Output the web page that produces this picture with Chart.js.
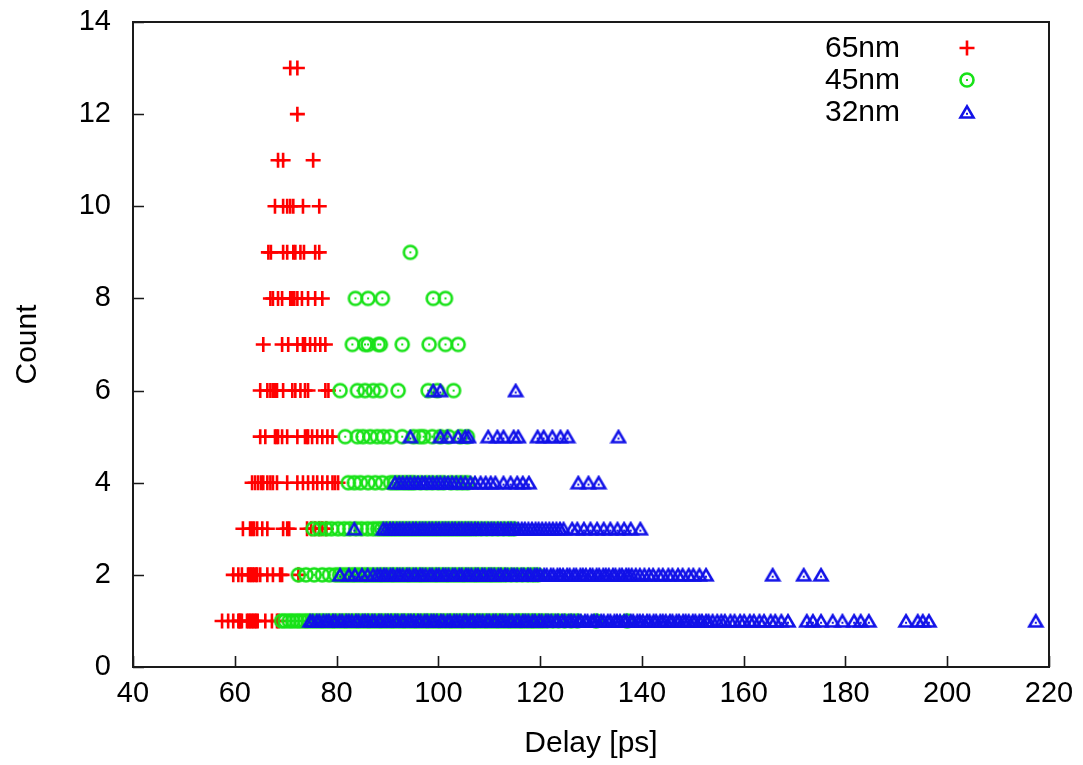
<!DOCTYPE html>
<html>
<head>
<meta charset="utf-8">
<script src="https://cdn.jsdelivr.net/npm/chart.js@4.4.0/dist/chart.umd.min.js"></script>
<style>
    html, body { margin: 0; padding: 0; background: #ffffff; }
    #grafico { display: block; }
</style>
</head>
<body>
<canvas id="grafico" width="1083" height="765"></canvas>
<script>
// Atraso de cada amostra por nó tecnológico; linhas[i] = atrasos com contagem i + 1
var nomesSeries = ['65nm', '45nm', '32nm'];
var coresSeries = ['rgb(255, 0, 0)', 'rgb(24, 226, 24)', 'rgb(18, 18, 232)'];

var eixoX = { min: 40, max: 220, passo: 20 };
var eixoY = { min: 0, max: 14, passo: 2 };

var atrasos65 = [
    [57.5, 58.7, 59.7, 60.7, 60.9, 61.1, 61.4, 62.4, 62.7, 63.0, 63.3, 63.6, 63.9, 64.2, 64.5, 66.0, 67.3, 68.3, 68.6],
    [59.7, 60.7, 61.4, 62.6, 62.9, 63.2, 63.5, 63.8, 64.2, 64.4, 65.0, 66.4, 67.5, 68.9, 69.3, 72.5],
    [61.6, 63.0, 63.4, 63.8, 64.4, 65.4, 66.4, 69.5, 70.3, 70.7, 74.2, 75.0, 75.8, 76.6, 77.2, 78.0],
    [63.4, 64.0, 64.6, 65.2, 65.6, 66.4, 67.0, 67.5, 68.3, 70.3, 72.3, 73.4, 74.4, 75.4, 76.2, 77.2, 78.2, 79.2, 79.7, 80.3],
    [65.0, 66.0, 67.9, 68.2, 68.5, 69.3, 70.3, 72.3, 73.8, 74.2, 74.4, 75.2, 76.2, 77.2, 78.2, 79.2],
    [65.0, 66.4, 67.0, 67.5, 67.9, 68.3, 69.5, 71.3, 71.9, 72.9, 73.8, 74.4, 77.8, 78.4],
    [65.6, 69.3, 70.5, 72.3, 73.4, 73.8, 74.8, 75.8, 76.8, 77.8],
    [67.0, 67.5, 68.5, 69.3, 70.9, 71.3, 71.7, 72.3, 73.2, 74.4, 75.8, 77.2],
    [66.6, 67.1, 69.5, 70.3, 71.5, 71.9, 72.9, 73.6, 75.8, 76.6],
    [67.9, 69.5, 70.3, 70.9, 71.5, 73.4, 76.6],
    [68.5, 69.5, 75.4],
    [72.3],
    [70.9, 72.3]
];

var atrasos45 = [
    [69.2, 69.9, 70.7, 71.4, 72.2, 72.9, 73.7, 74.4, 75.2, 76.0, 76.8, 77.5, 78.3, 79.1, 79.8, 80.6, 81.4, 82.1, 82.9,
     83.7, 84.4, 85.2, 86.0, 86.7, 87.5, 88.3, 89.0, 89.8, 90.6, 91.3, 92.1, 92.9, 93.6, 94.4, 95.2, 95.9, 96.7, 97.5,
     98.2, 99.0, 99.8, 100.5, 101.3, 102.1, 102.8, 103.6, 104.4, 105.1, 105.9, 106.7, 107.4, 108.2, 109.0, 109.7, 110.5,
     111.3, 112.0, 112.8, 113.6, 114.3, 115.1, 115.9, 116.6, 117.4, 118.2, 118.9, 119.7, 120.5, 121.4, 122.5, 123.6,
     124.8, 126.1, 127.3, 131.0, 137.1],
    [72.5, 74.0, 75.6, 77.2, 78.6, 79.8, 80.6, 81.4, 82.2, 83.0, 83.7, 84.5, 85.3, 86.0, 86.8, 87.6, 88.4, 89.1, 89.9,
     90.7, 91.4, 92.2, 93.0, 93.8, 94.5, 95.3, 96.1, 96.8, 97.6, 98.4, 99.2, 99.9, 100.7, 101.5, 102.2, 103.0, 103.8,
     104.6, 105.3, 106.1, 106.9, 107.6, 108.4, 109.2, 110.0, 110.7, 111.5, 112.3, 113.2, 114.3, 115.4, 116.5, 117.6,
     118.6, 119.5],
    [75.4, 76.6, 77.9, 79.0, 80.3, 81.5, 82.6, 83.8, 84.9, 86.1, 87.2, 88.1, 88.9, 89.7, 90.5, 91.3, 92.1, 92.9, 93.7,
     94.5, 95.3, 96.1, 96.9, 97.7, 98.5, 99.3, 100.1, 100.9, 101.7, 102.5, 103.3, 104.1, 104.9, 105.7, 106.5, 107.4,
     108.4, 109.5, 110.6, 111.7, 112.8, 113.9, 114.8],
    [82.3, 83.5, 84.7, 86.2, 87.6, 89.0, 90.6, 91.4, 92.2, 93.1, 93.9, 94.6, 95.3, 96.5, 97.7, 98.8, 100.0, 101.0, 102.5,
     103.7, 104.7, 105.7],
    [81.7, 84.1, 85.2, 86.6, 88.0, 89.2, 90.6, 92.9, 95.1, 96.3, 97.1, 98.8, 100.4, 102.0, 104.3, 105.7],
    [80.7, 84.1, 85.6, 87.2, 88.6, 92.1, 98.0, 99.8, 103.0],
    [83.1, 85.6, 86.2, 88.2, 88.6, 92.9, 98.2, 101.4, 103.9],
    [83.7, 86.2, 89.0, 99.0, 101.4],
    [94.5]
];

var atrasos32 = [
    [74.8, 75.3, 76.1, 76.6, 77.4, 78.0, 78.5, 79.3, 79.8, 80.6, 81.1, 81.9, 82.4, 83.0, 83.8, 84.3, 85.1, 85.6, 86.2,
     87.0, 87.5, 88.3, 88.8, 89.6, 90.1, 90.7, 91.5, 92.0, 92.8, 93.3, 94.1, 94.6, 95.2, 96.0, 96.5, 97.3, 97.8, 98.6,
     99.1, 99.7, 100.5, 101.0, 101.8, 102.3, 103.1, 103.6, 104.2, 105.0, 105.5, 106.3, 106.8, 107.6, 108.1, 108.7,
     109.5, 110.0, 110.8, 111.3, 112.1, 112.6, 113.2, 114.0, 114.5, 115.3, 115.8, 116.6, 117.1, 117.7, 118.5, 119.0,
     119.8, 120.3, 121.1, 121.6, 122.2, 123.0, 123.5, 124.3, 124.8, 125.6, 126.1, 126.7, 127.5, 128.0, 128.8, 129.3,
     130.1, 130.6, 131.2, 132.0, 132.5, 133.3, 133.8, 134.6, 135.1, 135.7, 136.5, 137.0, 137.8, 138.3, 139.1, 139.6,
     140.2, 141.0, 141.5, 142.3, 142.8, 143.6, 144.1, 144.7, 145.5, 146.0, 146.8, 147.3, 148.1, 148.6, 149.2, 150.0,
     150.5, 151.3, 151.8, 152.6, 153.1, 153.9, 154.8, 155.6, 156.3, 157.4, 158.2, 159.3, 160.1, 161.2, 162.0, 163.1,
     164.0, 165.3, 166.2, 167.4, 168.7, 172.4, 173.6, 175.2, 177.5, 179.4, 181.7, 183.0, 184.6, 191.9, 194.2, 195.2,
     196.4, 217.4],
    [80.7, 82.4, 83.6, 85.0, 86.1, 87.2, 88.0, 88.6, 89.3, 89.8, 90.6, 91.1, 91.9, 92.4, 93.0, 93.8, 94.3, 95.1, 95.6,
     96.4, 96.9, 97.5, 98.3, 98.8, 99.6, 100.1, 100.9, 101.4, 102.0, 102.8, 103.3, 104.1, 104.6, 105.4, 105.9, 106.5,
     107.3, 107.8, 108.6, 109.1, 109.9, 110.4, 111.0, 111.8, 112.3, 113.1, 113.6, 114.4, 114.9, 115.5, 116.3, 116.8,
     117.6, 118.1, 118.9, 119.4, 120.0, 120.8, 121.3, 122.1, 122.6, 123.4, 123.9, 124.5, 125.3, 125.8, 126.6, 127.1,
     127.9, 128.4, 129.0, 129.8, 130.3, 131.1, 131.6, 132.4, 132.9, 133.5, 134.3, 134.8, 135.6, 136.1, 136.9, 137.4,
     138.0, 138.8, 139.6, 140.5, 141.4, 142.2, 143.3, 144.1, 145.2, 146.0, 147.1, 148.0, 149.2, 150.1, 151.3, 152.6,
     165.7, 171.8, 175.2],
    [83.5, 89.2, 89.8, 90.5, 91.1, 91.8, 92.4, 93.0, 93.7, 94.3, 95.0, 95.6, 96.3, 96.9, 97.5, 98.2, 98.8, 99.5, 100.1,
     100.8, 101.4, 102.0, 102.7, 103.3, 104.0, 104.6, 105.3, 105.9, 106.5, 107.2, 107.8, 108.5, 109.1, 109.8, 110.4,
     111.0, 111.7, 112.3, 113.0, 113.7, 114.3, 115.0, 115.7, 116.4, 117.0, 117.7, 118.4, 119.1, 119.7, 120.4, 121.1,
     121.8, 122.5, 123.2, 123.9, 124.6, 126.3, 127.3, 128.6, 129.9, 131.2, 132.5, 133.8, 135.2, 136.5, 137.8, 139.7],
    [91.5, 92.3, 93.0, 93.8, 94.5, 95.3, 96.0, 96.8, 97.4, 98.2, 98.9, 99.7, 100.4, 101.2, 101.9, 102.7, 103.5, 104.4,
     105.3, 106.3, 107.2, 108.3, 109.3, 110.3, 111.2, 112.8, 114.2, 115.5, 116.6, 117.8, 127.5, 129.5, 131.5],
    [94.5, 100.4, 101.8, 103.9, 105.3, 105.9, 109.8, 111.6, 112.8, 114.8, 115.7, 119.5, 120.7, 122.4, 124.0, 125.4, 135.4],
    [99.0, 100.4, 115.2]
];

var fonteTexto = '"Liberation Sans", Arial, Helvetica, sans-serif';

function montarPontos(linhas) {
    var pontos = [];
    linhas.forEach(function(linha, i) {
        linha.forEach(function(atraso) {
            pontos.push({ x: atraso, y: i + 1 });
        });
    });
    return pontos;
}

// marcadores do estilo gnuplot: círculo e triângulo vazados com ponto no centro
function criarCirculo(cor) {
    var c = document.createElement('canvas');
    c.width = 18; c.height = 18;
    var g = c.getContext('2d');
    g.strokeStyle = cor; g.fillStyle = cor; g.lineWidth = 2.6;
    g.beginPath();
    g.arc(9, 9, 6.5, 0, Math.PI * 2);
    g.stroke();
    g.fillRect(8, 8, 2, 2);
    return c;
}

function criarTriangulo(cor) {
    var c = document.createElement('canvas');
    c.width = 18; c.height = 16;
    var g = c.getContext('2d');
    g.strokeStyle = cor; g.fillStyle = cor; g.lineWidth = 2.6;
    g.lineJoin = 'miter';
    g.beginPath();
    g.moveTo(9, 2.4);
    g.lineTo(15.5, 13.5);
    g.lineTo(2.5, 13.5);
    g.closePath();
    g.stroke();
    g.fillRect(8, 8.8, 2, 2);
    return c;
}

var marcadorCirculo = criarCirculo(coresSeries[1]);
var marcadorTriangulo = criarTriangulo(coresSeries[2]);

function desenharCruz(ctx, x, y, cor) {
    ctx.save();
    ctx.strokeStyle = cor;
    ctx.lineWidth = 2.6;
    ctx.beginPath();
    ctx.moveTo(x - 7.5, y); ctx.lineTo(x + 7.5, y);
    ctx.moveTo(x, y - 7.5); ctx.lineTo(x, y + 7.5);
    ctx.stroke();
    ctx.restore();
}

// moldura do gráfico e marcas dos eixos viradas para dentro
var molduraPlugin = {
    id: 'moldura',
    beforeDatasetsDraw: function(chart) {
        var ctx = chart.ctx, a = chart.chartArea;
        var sx = chart.scales.x, sy = chart.scales.y;
        ctx.save();
        ctx.strokeStyle = '#1a1a1a';
        ctx.lineWidth = 1.6;
        ctx.beginPath();
        sx.ticks.forEach(function(t) {
            var p = Math.round(sx.getPixelForValue(t.value)) + 0.5;
            ctx.moveTo(p, a.bottom);
            ctx.lineTo(p, a.bottom - 11);
        });
        sy.ticks.forEach(function(t) {
            var p = Math.round(sy.getPixelForValue(t.value)) + 0.5;
            ctx.moveTo(a.left, p);
            ctx.lineTo(a.left + 11, p);
        });
        ctx.stroke();
        ctx.lineWidth = 2;
        ctx.strokeRect(a.left, a.top, a.right - a.left, a.bottom - a.top);
        ctx.restore();
    }
};

// legenda: texto à esquerda e marcador à direita
var legendaPlugin = {
    id: 'legendaGnuplot',
    afterDraw: function(chart) {
        var ctx = chart.ctx;
        var linhasY = [48, 80, 112];
        ctx.save();
        ctx.font = '30px ' + fonteTexto;
        ctx.fillStyle = '#000';
        ctx.textAlign = 'left';
        ctx.textBaseline = 'middle';
        nomesSeries.forEach(function(nome, i) {
            ctx.fillText(nome, 825, linhasY[i] + 1);
        });
        desenharCruz(ctx, 967, linhasY[0], coresSeries[0]);
        ctx.drawImage(marcadorCirculo, 967 - 9, linhasY[1] - 9);
        ctx.drawImage(marcadorTriangulo, 967 - 9, linhasY[2] - 8);
        ctx.restore();
    }
};

var config = {
    type: 'scatter',
    data: {
        datasets: [{
            label: nomesSeries[0],
            data: montarPontos(atrasos65),
            pointStyle: 'cross',
            pointRadius: 7.5,
            pointBorderWidth: 2.6,
            borderColor: coresSeries[0],
            backgroundColor: coresSeries[0],
            order: 3
        }, {
            label: nomesSeries[1],
            data: montarPontos(atrasos45),
            pointStyle: marcadorCirculo,
            pointRadius: 7,
            borderColor: coresSeries[1],
            backgroundColor: coresSeries[1],
            order: 2
        }, {
            label: nomesSeries[2],
            data: montarPontos(atrasos32),
            pointStyle: marcadorTriangulo,
            pointRadius: 7,
            borderColor: coresSeries[2],
            backgroundColor: coresSeries[2],
            order: 1
        }]
    },
    options: {
        responsive: false,
        animation: false,
        events: [],
        layout: { padding: { top: 22, right: 34, left: 0, bottom: 0 } },
        plugins: {
            legend: { display: false },
            tooltip: { enabled: false }
        },
        scales: {
            x: {
                type: 'linear',
                min: eixoX.min,
                max: eixoX.max,
                grid: { display: false, drawTicks: false },
                border: { display: false },
                ticks: {
                    stepSize: eixoX.passo,
                    color: '#000',
                    padding: 10,
                    maxRotation: 0,
                    font: { family: fonteTexto, size: 29 }
                },
                title: {
                    display: true,
                    text: 'Delay [ps]',
                    color: '#000',
                    padding: { top: 0, bottom: 3 },
                    font: { family: fonteTexto, size: 30 }
                },
                afterFit: function(escala) {
                    escala.height = 98;
                    escala.paddingLeft = 0;
                    escala.paddingRight = 0;
                }
            },
            y: {
                type: 'linear',
                min: eixoY.min,
                max: eixoY.max,
                grid: { display: false, drawTicks: false },
                border: { display: false },
                ticks: {
                    stepSize: eixoY.passo,
                    color: '#000',
                    padding: 22,
                    font: { family: fonteTexto, size: 29 }
                },
                title: {
                    display: true,
                    text: 'Count',
                    color: '#000',
                    padding: { top: 10, bottom: 0 },
                    font: { family: fonteTexto, size: 30 }
                },
                afterFit: function(escala) {
                    escala.width = 133;
                    escala.paddingTop = 0;
                    escala.paddingBottom = 0;
                }
            }
        }
    },
    plugins: [molduraPlugin, legendaPlugin]
};

var ctx = document.getElementById('grafico').getContext('2d');
new Chart(ctx, config);
</script>
</body>
</html>
